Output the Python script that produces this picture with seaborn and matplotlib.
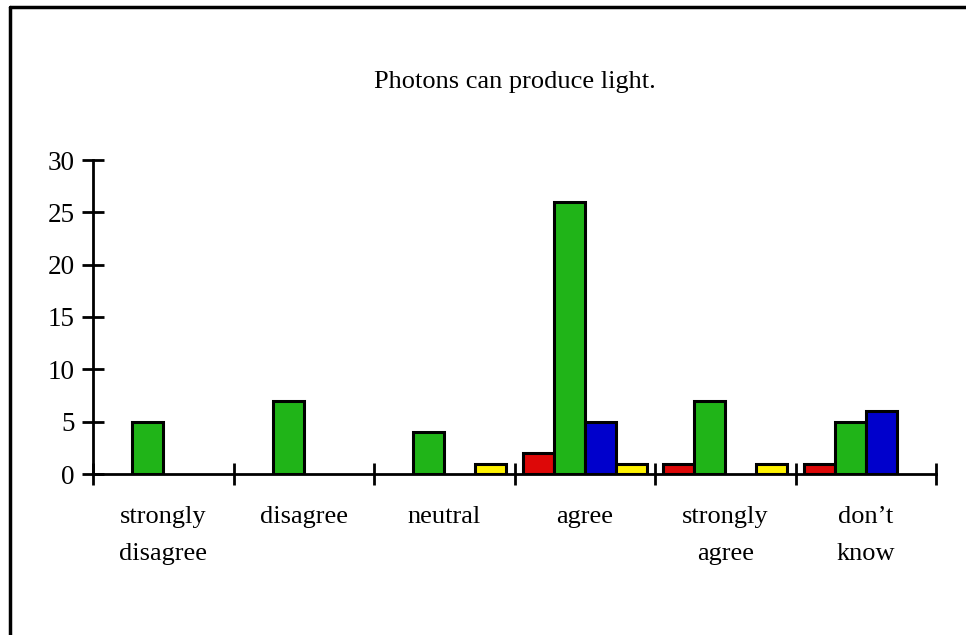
import matplotlib
matplotlib.use("Agg")
import matplotlib.pyplot as plt
from matplotlib.lines import Line2D
import seaborn as sns
import pandas as pd

categories = ["strongly\ndisagree", "disagree", "neutral", "agree", "strongly\nagree", "don\u2019t\nknow"]
series_names = ["A", "B", "C", "D"]
values_a = [0, 0, 0, 2, 1, 1]
values_b = [5, 7, 4, 26, 7, 5]
values_c = [0, 0, 0, 5, 0, 6]
values_d = [0, 0, 1, 1, 1, 0]
series_colors = ["#dd0808", "#20b418", "#0000cc", "#fff200"]
y_ticks = [0, 5, 10, 15, 20, 25, 30]
title = "Photons can produce light."

rows = []
for name, vals in zip(series_names, [values_a, values_b, values_c, values_d]):
    for cat, v in zip(categories, vals):
        if v > 0:
            rows.append({"category": cat, "series": name, "count": v})
df = pd.DataFrame(rows)

sns.set_style("white")
plt.rcParams["font.family"] = ["Liberation Serif", "DejaVu Serif"]
plt.rcParams["text.color"] = "black"
plt.rcParams["xtick.color"] = "black"
plt.rcParams["ytick.color"] = "black"

fig = plt.figure(figsize=(9.66, 6.35), dpi=100)
ax = fig.add_axes([93 / 966, (635 - 474) / 635, (936 - 93) / 966, (474 - 160) / 635])

sns.barplot(data=df, x="category", y="count", hue="series",
            order=categories, hue_order=series_names,
            palette=series_colors, saturation=1, width=0.88, dodge=True,
            edgecolor="black", linewidth=2.2, legend=False, ax=ax)

ax.set_xlim(-0.5, len(categories) - 0.5)
ax.set_ylim(0, 30)
ax.set_xlabel("")
ax.set_ylabel("")

for side in ["top", "right"]:
    ax.spines[side].set_visible(False)
for side in ["left", "bottom"]:
    ax.spines[side].set_linewidth(2)
    ax.spines[side].set_color("black")

ax.set_yticks(y_ticks)
ax.set_yticklabels([str(t) for t in y_ticks])
ax.tick_params(axis="y", which="major", direction="inout", length=16, width=2,
               labelsize=19.5, pad=5, colors="black", left=True)

ax.set_xticks(range(len(categories)))
ax.set_xticklabels(categories, linespacing=1.88)
ax.set_xticks([i - 0.5 for i in range(len(categories) + 1)], minor=True)
ax.tick_params(axis="x", which="major", length=0, labelsize=19, pad=23, colors="black")
ax.tick_params(axis="x", which="minor", direction="inout", length=16, width=2,
               bottom=True, colors="black")
for lbl in ax.get_xticklabels():
    lbl.set_verticalalignment("top")

fig.text(515 / 966, 1 - 82 / 635, title, ha="center", va="center", fontsize=19,
         color="black")

# outer frame: top and left edges
fig.add_artist(Line2D([10 / 966, 1.0], [1 - 7 / 635, 1 - 7 / 635], color="black", lw=2.5,
                      transform=fig.transFigure))
fig.add_artist(Line2D([10 / 966, 10 / 966], [0.0, 1 - 7 / 635], color="black", lw=2.5,
                      transform=fig.transFigure))

fig.savefig("out.png", dpi=100)
